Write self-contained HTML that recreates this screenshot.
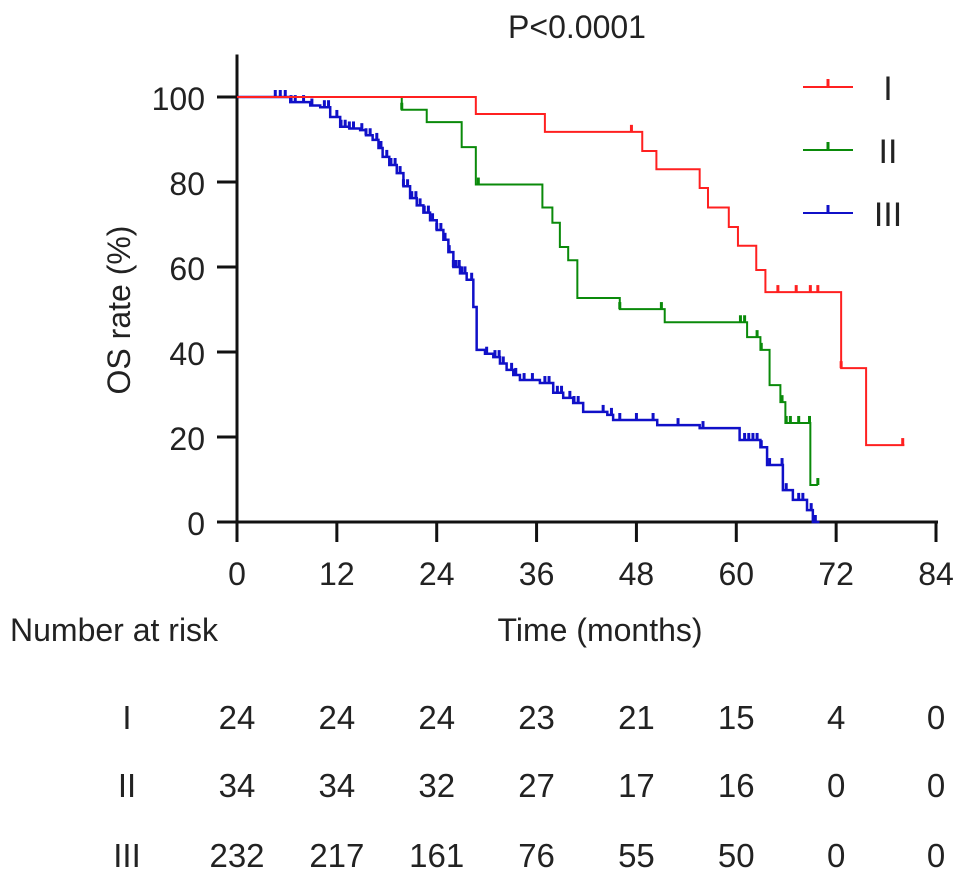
<!DOCTYPE html>
<html><head><meta charset="utf-8"><style>
html,body{margin:0;padding:0;background:#fff;}
svg{display:block;font-family:"Liberation Sans",sans-serif;}
text{fill:#222;}
</style></head><body>
<svg id="chart" width="969" height="879" viewBox="0 0 969 879" xmlns="http://www.w3.org/2000/svg">
<text x="577" y="38" font-size="32" text-anchor="middle">P&lt;0.0001</text>
<text x="0" y="0" font-size="32" text-anchor="middle" transform="translate(130,310) rotate(-90)">OS rate (%)</text>
<text x="600" y="641" font-size="32" text-anchor="middle">Time (months)</text>
<text x="10" y="641" font-size="32">Number at risk</text>
<g id="axes"></g>
<g id="series"></g>
<g id="legend"></g>
<g id="risk"></g>
</svg>
<script>
const xTicks=[0,12,24,36,48,60,72,84];
const yTicks=[0,20,40,60,80,100];
const groupNames=["I","II","III"];
const colors=["#ff2020","#0a8a0a","#1010c8"];
const s1t=[0,28.7,37,48.7,50.4,55.6,56.6,59.1,60.2,62.4,63.5,72.6,75.6,80.2];
const s1v=[100,96,91.8,87.3,83,78.6,74,69.4,65,59.3,54.1,36.2,18.1,18.1];
const s2t=[0,19.8,22.8,27,28.7,36.7,37.9,38.8,39.8,40.9,46,51.4,61.3,62.9,64,65.3,65.9,68.9,69.8];
const s2v=[100,97,94.1,88.2,79.4,74,70.4,64.7,61.6,52.7,50.1,47,43.5,40.5,32.2,28.2,23.3,8.7,8.7];
const s3t=[0,6.4,8.8,10,11.2,12.4,13.5,14.8,15.5,16.3,17,17.5,18.3,19.2,20,20.8,21.6,22.4,23.2,24,24.8,25.4,26,26.8,27.6,28.4,28.8,29.8,30.8,31.6,32.4,33.2,34,36.4,38,39.2,40.4,41.6,44.5,45.2,50.5,55.6,60.4,62.9,63.7,65.6,66.8,68.5,69.2,70];
const s3v=[100,98.8,98,97.6,95.3,93,92.6,92.2,91,89.9,88,85.9,84,82.1,79,76.2,74.5,72.8,71,68.7,66.4,63.5,60,58.5,57,50.6,40.5,39.6,38.8,37.3,35.8,34.6,33.4,32.7,30.4,29.2,28,25.9,25.2,24,22.8,22.1,19.3,17.6,13.4,7.5,5.2,2.8,0,0];
const c1=[47.4,65,67.2,68.9,69.8,72.6,80];
const c2=[19.8,29,46,51,60.5,61,62.5,63,65.5,66,66.5,67.5,68.8,69.8];
const c3=[4.6,5.2,5.8,6.5,7,8,9,10.5,11,12,12.5,13,13.5,14,15,15.5,16,16.8,17.3,18,18.5,19,19.6,20,20.5,21,21.5,22,22.5,23,23.5,24,24.5,25,25.5,26,26.3,26.7,27,27.4,28.2,30,31,31.5,32,33,33.5,34.5,35.5,37,37.5,38.5,39,40,40.5,41,44,45,46,48,50,53,56,61,61.5,62,62.5,63,64,65.5,66,67.5,68,69,69.5];
const riskI=[24,24,24,23,21,15,4,0];
const riskII=[34,34,32,27,17,16,0,0];
const riskIII=[232,217,161,76,55,50,0,0];

const NS="http://www.w3.org/2000/svg";
const X=t=>237+t*(699/84);
const Y=v=>522-v*4.25;
function mk(tag,attrs,parent,txt){const e=document.createElementNS(NS,tag);for(const k in attrs)e.setAttribute(k,attrs[k]);if(txt!==undefined)e.textContent=txt;parent.appendChild(e);return e;}
const axes=document.getElementById('axes');
let l=mk('line',{x1:237,y1:522,x2:938,y2:522,stroke:'#111','stroke-width':3},axes);


l=mk('line',{x1:237,y1:522,x2:237,y2:Y(110),stroke:'#111','stroke-width':3},axes);


xTicks.forEach(t=>{
  const a=mk('line',{x1:X(t),y1:522,x2:X(t),y2:542,stroke:'#111','stroke-width':3},axes);
  
  
  const b=mk('text',{x:X(t),y:585,'font-size':32,'text-anchor':'middle'},axes,String(t));
  
  
});
yTicks.forEach(v=>{
  const a=mk('line',{x1:217,y1:Y(v),x2:237,y2:Y(v),stroke:'#111','stroke-width':3},axes);
  
  
  const b=mk('text',{x:205,y:Y(v)+13,'font-size':32,'text-anchor':'end'},axes,String(v));
  
  
});
const series=document.getElementById('series');
function survAt(ts,vs,t){let v=vs[0];for(let i=0;i<ts.length;i++){if(ts[i]<=t)v=vs[i];}return v;}
function drawCurve(ts,vs,cs,col,name,w){
  let d='M'+X(ts[0])+','+Y(vs[0]);
  for(let i=1;i<ts.length;i++){d+=' H'+X(ts[i])+' V'+Y(vs[i]);}
  const p=mk('path',{d:d,fill:'none',stroke:col,'stroke-width':w},series);
  
  
  cs.forEach(t=>{
    const v=survAt(ts,vs,t);
    const c=mk('line',{x1:X(t),y1:Y(v),x2:X(t),y2:Y(v)-7,stroke:col,'stroke-width':3},series);
    
    
  });
}
drawCurve(s3t,s3v,c3,colors[2],'stage-iii',2.5);
drawCurve(s2t,s2v,c2,colors[1],'stage-ii',2);
drawCurve(s1t,s1v,c1,colors[0],'stage-i',2);
const legend=document.getElementById('legend');
const ly=[87,150,213];
groupNames.forEach((n,i)=>{
  const a=mk('line',{x1:803,y1:ly[i],x2:853,y2:ly[i],stroke:colors[i],'stroke-width':2},legend);
  
  
  const b=mk('line',{x1:828,y1:ly[i],x2:828,y2:ly[i]-8,stroke:colors[i],'stroke-width':3},legend);
  
  
  const c=mk('text',{x:888,y:ly[i]+13,'font-size':34,'text-anchor':'middle'},legend,n);
  
  
});
const risk=document.getElementById('risk');
const rows=[riskI,riskII,riskIII];
const ry=[729,797,867];
rows.forEach((r,i)=>{
  const a=mk('text',{x:127,y:ry[i],'font-size':33,'text-anchor':'middle'},risk,groupNames[i]);
  
  
  r.forEach((v,j)=>{
    const b=mk('text',{x:X(xTicks[j]),y:ry[i],'font-size':33,'text-anchor':'middle'},risk,String(v));
    
    
  });
});
</script>
</body></html>
